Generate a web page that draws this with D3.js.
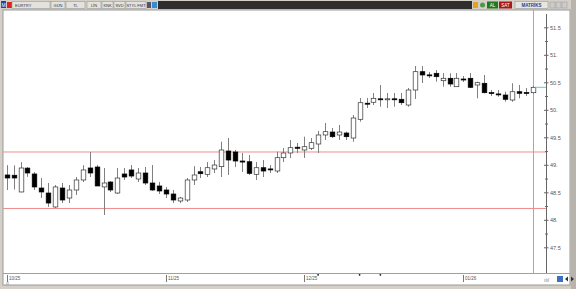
<!DOCTYPE html>
<html>
<head>
<meta charset="utf-8">
<script src="https://cdn.jsdelivr.net/npm/d3@7"></script>
<style>
  html, body { margin: 0; padding: 0; background: #d4d0c8; }
  svg { display: block; font-family: "Liberation Sans", Arial, sans-serif; }
</style>
</head>
<body>
<div id="chart"></div>
<script>
// EURTRY gunluk mumlar (10/25 - 01/26)
const openVals = [48.815, 48.81, 48.506, 48.94, 48.833, 48.578, 48.487, 48.233, 48.578, 48.396,
  48.542, 48.724, 48.942, 48.96, 48.597, 48.687, 48.487, 48.833, 48.906, 48.742,
  48.851, 48.669, 48.615, 48.542, 48.469, 48.342, 48.36, 48.724, 48.874, 48.827,
  48.924, 48.966, 49.251, 49.233, 49.069, 49.056, 48.827, 48.947, 48.925, 48.887,
  49.129, 49.215, 49.32, 49.269, 49.3, 49.378, 49.542, 49.596, 49.542, 49.578,
  49.487, 49.827, 50.12, 50.137, 50.2, 50.197, 50.2, 50.191, 50.087, 50.36,
  50.693, 50.635, 50.664, 50.529, 50.573, 50.42, 50.56, 50.573, 50.451, 50.482,
  50.312, 50.289, 50.269, 50.178, 50.329, 50.315, 50.311];
const highVals = [48.993, 48.99, 49.05, 48.96, 48.869, 48.76, 48.669, 48.633, 48.669, 48.633,
  48.778, 48.993, 49.233, 48.996, 48.942, 48.705, 48.942, 48.942, 48.996, 48.942,
  48.96, 48.996, 48.687, 48.597, 48.542, 48.415, 48.76, 48.975, 48.96, 49.05,
  49.087, 49.42, 49.487, 49.269, 49.215, 49.178, 49.05, 49.087, 48.993, 49.238,
  49.306, 49.451, 49.396, 49.511, 49.487, 49.615, 49.76, 49.669, 49.724, 49.602,
  49.906, 50.215, 50.215, 50.306, 50.451, 50.306, 50.306, 50.306, 50.396, 50.796,
  50.796, 50.687, 50.724, 50.669, 50.664, 50.669, 50.615, 50.669, 50.511, 50.633,
  50.36, 50.36, 50.329, 50.482, 50.451, 50.396, 50.433];
const lowVals = [48.542, 48.55, 48.5, 48.78, 48.542, 48.396, 48.233, 48.215, 48.305, 48.305,
  48.451, 48.687, 48.778, 48.615, 48.087, 48.506, 48.469, 48.724, 48.76, 48.687,
  48.633, 48.524, 48.469, 48.396, 48.305, 48.305, 48.324, 48.633, 48.76, 48.778,
  48.851, 48.778, 48.815, 48.96, 48.869, 48.815, 48.724, 48.778, 48.851, 48.851,
  49.05, 49.124, 49.215, 49.124, 49.269, 49.215, 49.451, 49.487, 49.451, 49.451,
  49.42, 49.784, 50.033, 50.087, 50.056, 50.033, 50.056, 50.087, 50.056, 50.196,
  50.487, 50.578, 50.511, 50.42, 50.42, 50.415, 50.505, 50.396, 50.209, 50.3,
  50.251, 50.238, 50.147, 50.147, 50.209, 50.251, 50.293];
const closeVals = [48.76, 48.76, 48.942, 48.851, 48.597, 48.506, 48.305, 48.597, 48.36, 48.542,
  48.724, 48.906, 48.851, 48.615, 48.669, 48.542, 48.76, 48.778, 48.796, 48.851,
  48.669, 48.542, 48.524, 48.469, 48.36, 48.396, 48.724, 48.815, 48.838, 48.947,
  48.996, 49.269, 49.087, 49.069, 49.05, 48.845, 48.947, 48.887, 48.92, 49.129,
  49.215, 49.311, 49.30, 49.329, 49.402, 49.542, 49.602, 49.511, 49.596, 49.511,
  49.851, 50.129, 50.118, 50.209, 50.196, 50.2, 50.198, 50.129, 50.36, 50.693,
  50.633, 50.63, 50.602, 50.573, 50.469, 50.573, 50.559, 50.409, 50.493, 50.311,
  50.31, 50.287, 50.191, 50.329, 50.3, 50.314, 50.409];

// yatay destek / direnc cizgileri
const levelVals = [49.233, 48.206];
// olay isaretleri (mum sirasi)
const eventIdx = [45, 51, 54];

// eksen etiketleri
const dateTickIdx = [0, 23, 43, 66];
const dateTickLabels = ['10/25', '11/25', '12/25', '01/26'];
const priceTicks = [47.5, 48, 48.5, 49, 49.5, 50, 50.5, 51, 51.5];
const priceTickLabels = ['47.5', '48.', '48.5', '49.', '49.5', '50.', '50.5', '51.', '51.5'];
const priceMinorTicks = [47.75, 48.25, 48.75, 49.25, 49.75, 50.25, 50.75, 51.25, 51.75];

const W = 576;
const H = 289;
const plot = { left: 3, top: 10, right: 546, bottom: 273 };

const svg = d3.select('#chart').append('svg')
  .attr('width', W)
  .attr('height', H);

// cerceve
svg.append('rect').attr('x', 0).attr('y', 0).attr('width', W).attr('height', H).attr('fill', '#d4d0c8');
svg.append('rect').attr('x', 3).attr('y', 10).attr('width', 567).attr('height', 275)
  .attr('fill', '#fff').attr('stroke', '#9a9a9a').attr('stroke-width', 1);
svg.append('line').attr('x1', 3).attr('x2', 570).attr('y1', 273.5).attr('y2', 273.5)
  .attr('stroke', '#a0a0a0');
svg.append('rect').attr('x', 571).attr('y', 0).attr('width', 5).attr('height', H).attr('fill', '#b8b4ac');

// ust arac cubugu
const bar = svg.append('g').attr('class', 'toolbar').attr('font-size', 5);
bar.append('rect').attr('x', 1).attr('y', 1).attr('width', 5).attr('height', 7).attr('fill', '#2244aa');
bar.append('text').attr('x', 3.5).attr('y', 6.5).attr('text-anchor', 'middle').attr('fill', '#fff').attr('font-size', 5).text('M');
bar.append('rect').attr('x', 7).attr('y', 2).attr('width', 5).attr('height', 6).attr('fill', '#d22');
const buttons = [
  { x: 12, w: 38, t: 'EURTRY' }, { x: 51, w: 14, t: 'GÜN' }, { x: 66, w: 19, t: 'TL' },
  { x: 87, w: 14, t: 'LİN' }, { x: 102, w: 11, t: 'KNK' }, { x: 114, w: 11, t: 'SVD' },
  { x: 126, w: 20, t: 'STYL FMT' },
];
buttons.forEach((b) => {
  bar.append('rect').attr('x', b.x).attr('y', 1.5).attr('width', b.w).attr('height', 7)
    .attr('fill', '#e4e2dc').attr('stroke', '#9c9a94').attr('stroke-width', 0.6);
  bar.append('text').attr('x', b.t === 'EURTRY' ? b.x + 3 : b.x + b.w / 2).attr('y', 6.6)
    .attr('text-anchor', b.t === 'EURTRY' ? 'start' : 'middle')
    .attr('fill', '#334').attr('font-size', 4).text(b.t);
});
bar.append('rect').attr('x', 147).attr('y', 2).attr('width', 4).attr('height', 6).attr('fill', '#556');
bar.append('rect').attr('x', 152).attr('y', 2).attr('width', 5).attr('height', 6).attr('fill', '#3a8ad0');
bar.append('rect').attr('x', 158).attr('y', 1).attr('width', 314).attr('height', 8).attr('fill', '#2e2e2e');
bar.append('rect').attr('x', 473).attr('y', 2).attr('width', 5).attr('height', 6).attr('fill', '#e8a020');
bar.append('circle').attr('cx', 482.5).attr('cy', 5).attr('r', 2.5).attr('fill', '#4a9a4a');
bar.append('rect').attr('x', 487).attr('y', 1.5).attr('width', 11).attr('height', 7).attr('fill', '#1f7a1f');
bar.append('text').attr('x', 492.5).attr('y', 6.6).attr('text-anchor', 'middle').attr('fill', '#fff').attr('font-size', 4.5).text('AL');
bar.append('rect').attr('x', 499).attr('y', 1.5).attr('width', 13).attr('height', 7).attr('fill', '#a81818');
bar.append('text').attr('x', 505.5).attr('y', 6.6).attr('text-anchor', 'middle').attr('fill', '#fff').attr('font-size', 4.5).text('SAT');
bar.append('rect').attr('x', 515).attr('y', 1.5).attr('width', 33).attr('height', 7)
  .attr('fill', '#e8e6e0').attr('stroke', '#9c9a94').attr('stroke-width', 0.6);
bar.append('text').attr('x', 531.5).attr('y', 6.6).attr('text-anchor', 'middle').attr('fill', '#2a3a9a')
  .attr('font-size', 4.5).attr('font-weight', 'bold').text('MATRİKS');
[550, 556, 562].forEach((x) => {
  bar.append('rect').attr('x', x).attr('y', 2).attr('width', 5).attr('height', 6)
    .attr('fill', '#ccc').attr('stroke', '#999').attr('stroke-width', 0.5);
});

// olcekler
const xScale = d3.scaleLinear().domain([0, openVals.length - 1]).range([6.7, 532.6]);
const yScale = d3.scaleLinear().domain([47.5, 51.5]).range([247.3, 27.3]);

svg.append('clipPath').attr('id', 'plot-clip')
  .append('rect').attr('x', plot.left).attr('y', plot.top)
  .attr('width', plot.right - plot.left).attr('height', plot.bottom - plot.top);

const g = svg.append('g').attr('clip-path', 'url(#plot-clip)');

// dikey imlec cizgisi
g.append('line').attr('x1', 533.5).attr('x2', 533.5).attr('y1', plot.top).attr('y2', plot.bottom)
  .attr('stroke', '#a8a8a8').attr('stroke-width', 1);

// destek / direnc
g.selectAll('.level').data(levelVals).enter().append('line')
  .attr('class', 'level')
  .attr('x1', plot.left).attr('x2', plot.right)
  .attr('y1', (d) => yScale(d)).attr('y2', (d) => yScale(d))
  .attr('stroke', '#f08c8c').attr('stroke-width', 1);

const candles = openVals.map((o, i) => ({
  i, o, h: highVals[i], l: lowVals[i], c: closeVals[i],
}));
const bodyW = 4.6;

g.selectAll('.wick').data(candles).enter().append('line')
  .attr('class', 'wick')
  .attr('x1', (d) => Math.round(xScale(d.i)) + 0.5)
  .attr('x2', (d) => Math.round(xScale(d.i)) + 0.5)
  .attr('y1', (d) => yScale(d.h))
  .attr('y2', (d) => yScale(d.l))
  .attr('stroke', '#808080').attr('stroke-width', 1);

g.selectAll('.body').data(candles).enter().append('rect')
  .attr('class', 'body')
  .attr('x', (d) => Math.round(xScale(d.i)) + 0.5 - bodyW / 2)
  .attr('y', (d) => yScale(Math.max(d.o, d.c)))
  .attr('width', bodyW)
  .attr('height', (d) => Math.max(1, Math.abs(yScale(d.o) - yScale(d.c))))
  .attr('fill', (d) => (d.c >= d.o ? '#fff' : '#000'))
  .attr('stroke', (d) => (d.c >= d.o ? '#333' : '#000'))
  .attr('stroke-width', 0.7);

// son fiyat isareti
const last = closeVals[closeVals.length - 1];
svg.append('line').attr('x1', 535).attr('x2', plot.right).attr('y1', yScale(last)).attr('y2', yScale(last))
  .attr('stroke', '#40d8e0').attr('stroke-width', 1);

// fiyat ekseni
const yAxis = svg.append('g')
  .attr('transform', `translate(${plot.right + 0.5},0)`)
  .call(d3.axisRight(yScale).tickValues(priceTicks).tickSize(2)
    .tickFormat((d, i) => priceTickLabels[i]));
yAxis.select('.domain').remove();
yAxis.append('line').attr('x1', 0).attr('x2', 0).attr('y1', 14).attr('y2', plot.bottom)
  .attr('stroke', '#666');
yAxis.selectAll('.tick line').attr('x1', -2.5).attr('stroke', '#666');
yAxis.selectAll('.tick text').attr('x', 3.5).attr('font-size', 5.5).attr('fill', '#555')
  .attr('font-family', '"Liberation Sans", Arial, sans-serif');
yAxis.selectAll('.minor').data(priceMinorTicks.filter((d) => yScale(d) > 14)).enter().append('line')
  .attr('class', 'minor')
  .attr('x1', -1.5).attr('x2', 1.5)
  .attr('y1', (d) => yScale(d) + 0.5).attr('y2', (d) => yScale(d) + 0.5)
  .attr('stroke', '#666');

// tarih ekseni
const xAxis = svg.append('g')
  .attr('transform', `translate(0,${plot.bottom + 1.5})`)
  .call(d3.axisBottom(xScale).tickValues(dateTickIdx).tickSize(7)
    .tickFormat((d, i) => dateTickLabels[i]));
xAxis.select('.domain').remove();
xAxis.selectAll('.tick').attr('transform', (d) => `translate(${Math.round(xScale(d)) + 0.5},0)`);
xAxis.selectAll('.tick line').attr('stroke', '#777').attr('shape-rendering', 'crispEdges');
xAxis.selectAll('.tick text').attr('x', 1.5).attr('y', 2.5).attr('dy', '0.7em')
  .attr('text-anchor', 'start').attr('font-size', 4.5).attr('fill', '#555')
  .attr('font-family', '"Liberation Sans", Arial, sans-serif');

// olay isaretleri
svg.selectAll('.event').data(eventIdx).enter().append('circle')
  .attr('class', 'event')
  .attr('cx', (d) => xScale(d)).attr('cy', plot.bottom + 1.8)
  .attr('r', 0.9).attr('fill', '#111');

// alt kose ikonlari
svg.append('text').attr('x', 6).attr('y', 285).attr('font-size', 5).attr('fill', '#777').text('ıl');
svg.append('text').attr('x', 544).attr('y', 282).attr('font-size', 5).attr('fill', '#777').text('ılıl');
svg.append('rect').attr('x', 557).attr('y', 276).attr('width', 6).attr('height', 6).attr('fill', '#3a70c8');
svg.append('path').attr('d', 'M565,279 l3,-2.5 v5 z M574,279 l-3,-2.5 v5 z').attr('fill', '#333');
</script>
</body>
</html>
